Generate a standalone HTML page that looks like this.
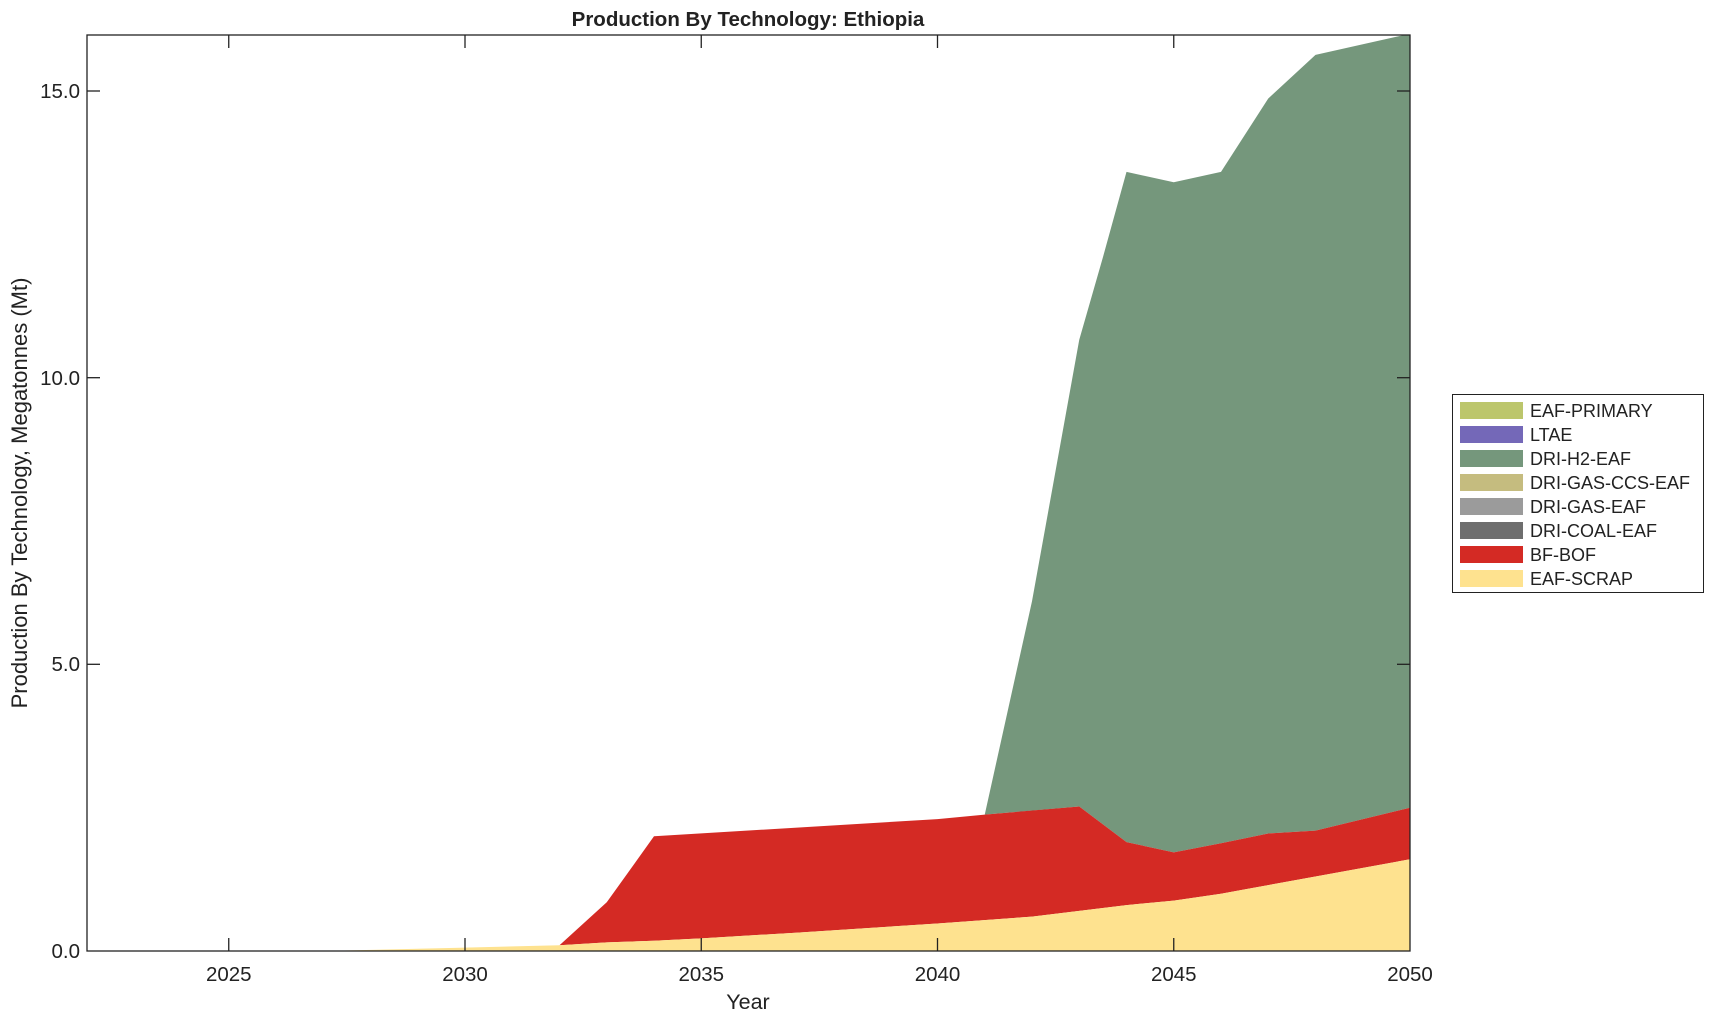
<!DOCTYPE html>
<html><head><meta charset="utf-8"><style>body{margin:0;background:#fff}svg{display:block}text{font-family:"Liberation Sans",Arial,sans-serif;fill:#222}</style></head>
<body>
<svg width="1715" height="1020" xmlns="http://www.w3.org/2000/svg">
<rect width="1715" height="1020" fill="#fff"/>
<defs><clipPath id="c"><rect x="87" y="35" width="1323" height="916"/></clipPath></defs>
<g clip-path="url(#c)">
<polygon fill="#75977c" points="984.75,814.6 1032,601.3 1079.25,339.8 1103,257 1126.5,171.9 1173.75,182.2 1221,171.9 1268.25,98.5 1315.5,54.9 1410,33.7 1410,807.7 1315.5,830.6 1268.25,833.5 1221,843.2 1173.75,852.4 1126.5,842.1 1079.25,806.5 1032,810.6"/>
<polygon fill="#d42a24" points="559.5,945.3 606.75,902.3 654,836.3 937.5,819.1 984.75,814.6 1079.25,806.5 1126.5,842.1 1173.75,852.4 1221,843.2 1268.25,833.5 1315.5,830.6 1410,807.7 1410,859.3 1315.5,876.5 1268.25,885.1 1221,893.7 1173.75,900.6 1126.5,905.1 1079.25,910.9 1032,916.6 937.5,923.5 795.75,932.7 701.25,938.4 654,940.7 606.75,942.4 559.5,945.3"/>
<polygon fill="#fee28f" points="323.25,951 465,947.6 559.5,945.3 606.75,942.4 654,940.7 701.25,938.4 795.75,932.7 937.5,923.5 1032,916.6 1079.25,910.9 1126.5,905.1 1173.75,900.6 1221,893.7 1268.25,885.1 1315.5,876.5 1410,859.3 1410,951"/>
</g>
<rect x="87" y="35" width="1323" height="916" fill="none" stroke="#222" stroke-width="1.3"/>
<g stroke="#222" stroke-width="1.3">
<line x1="228.75" y1="951" x2="228.75" y2="938"/><line x1="228.75" y1="35" x2="228.75" y2="48"/>
<line x1="465" y1="951" x2="465" y2="938"/><line x1="465" y1="35" x2="465" y2="48"/>
<line x1="701.25" y1="951" x2="701.25" y2="938"/><line x1="701.25" y1="35" x2="701.25" y2="48"/>
<line x1="937.5" y1="951" x2="937.5" y2="938"/><line x1="937.5" y1="35" x2="937.5" y2="48"/>
<line x1="1173.75" y1="951" x2="1173.75" y2="938"/><line x1="1173.75" y1="35" x2="1173.75" y2="48"/>
<line x1="87" y1="664.3" x2="100" y2="664.3"/><line x1="1410" y1="664.3" x2="1397" y2="664.3"/>
<line x1="87" y1="377.7" x2="100" y2="377.7"/><line x1="1410" y1="377.7" x2="1397" y2="377.7"/>
<line x1="87" y1="91" x2="100" y2="91"/><line x1="1410" y1="91" x2="1397" y2="91"/>
</g>
<g font-size="20.5" text-anchor="middle">
<text x="228.75" y="981">2025</text><text x="465" y="981">2030</text><text x="701.25" y="981">2035</text>
<text x="937.5" y="981">2040</text><text x="1173.75" y="981">2045</text><text x="1410" y="981">2050</text>
</g>
<g font-size="20.5" text-anchor="end">
<text x="80" y="958">0.0</text><text x="80" y="671">5.0</text><text x="80" y="385">10.0</text><text x="80" y="98">15.0</text>
</g>
<text x="748" y="1009" font-size="21.5" text-anchor="middle">Year</text>
<text transform="translate(27,493) rotate(-90)" font-size="22" text-anchor="middle">Production By Technology, Megatonnes (Mt)</text>
<text x="748" y="26" font-size="20.5" font-weight="bold" text-anchor="middle">Production By Technology: Ethiopia</text>
<rect x="1452.5" y="394.5" width="251" height="198" fill="#fff" stroke="#222" stroke-width="1"/>
<g font-size="18">
<rect x="1460" y="402" width="63" height="17" fill="#bcc66c"/><text x="1530" y="417">EAF-PRIMARY</text>
<rect x="1460" y="426" width="63" height="17" fill="#7468b8"/><text x="1530" y="441">LTAE</text>
<rect x="1460" y="450" width="63" height="17" fill="#75977c"/><text x="1530" y="465">DRI-H2-EAF</text>
<rect x="1460" y="474" width="63" height="17" fill="#c5bc7f"/><text x="1530" y="489">DRI-GAS-CCS-EAF</text>
<rect x="1460" y="498" width="63" height="17" fill="#9b9b9b"/><text x="1530" y="513">DRI-GAS-EAF</text>
<rect x="1460" y="522" width="63" height="17" fill="#6e6e6e"/><text x="1530" y="537">DRI-COAL-EAF</text>
<rect x="1460" y="546" width="63" height="17" fill="#d42a24"/><text x="1530" y="561">BF-BOF</text>
<rect x="1460" y="570" width="63" height="17" fill="#fee28f"/><text x="1530" y="585">EAF-SCRAP</text>
</g>
</svg>
</body></html>
